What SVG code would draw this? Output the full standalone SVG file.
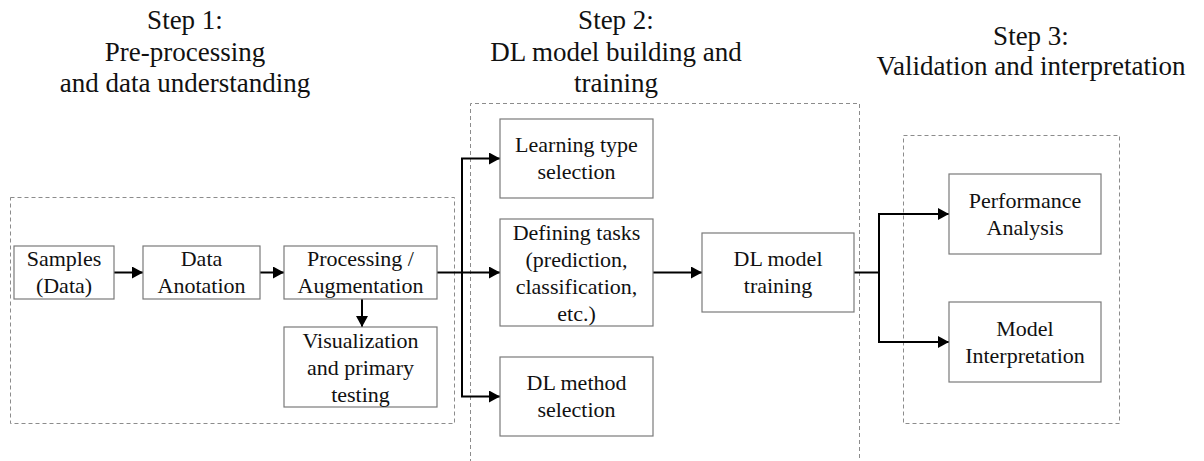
<svg xmlns="http://www.w3.org/2000/svg" width="1204" height="461" viewBox="0 0 1204 461">
  <style>
    .bg { fill: #ffffff; }
    .stage { fill: none; stroke: #8c8c8c; stroke-width: 1; stroke-dasharray: 4 3; }
    .box { fill: #ffffff; stroke: #7a7a7a; stroke-width: 1.2; }
    .lbl { font-size: 22px; fill: #111111; text-anchor: middle; }
    .head { font-size: 27px; fill: #111111; text-anchor: middle; }
    .wire { fill: none; stroke: #000000; stroke-width: 2; }
  </style>
  <defs>
    <marker id="arrow" markerUnits="userSpaceOnUse" markerWidth="11" markerHeight="12" viewBox="0 0 11 12" refX="11" refY="6" orient="auto">
      <path d="M0,0 L11,6 L0,12 z" fill="#000000"/>
    </marker>
  </defs>

  <rect class="bg" x="0" y="0" width="1204" height="461"/>

  <g font-family="'Liberation Serif', Tinos, 'DejaVu Serif', 'Times New Roman', serif">
  <!-- stage headings -->
  <g id="headings">
    <text class="head" x="185" y="29">Step 1:</text>
    <text class="head" x="185" y="61">Pre-processing</text>
    <text class="head" x="185" y="92">and data understanding</text>
    <text class="head" x="616" y="29">Step 2:</text>
    <text class="head" x="616" y="61">DL model building and</text>
    <text class="head" x="616" y="92">training</text>
    <text class="head" x="1031" y="45">Step 3:</text>
    <text class="head" x="1031" y="75">Validation and interpretation</text>
  </g>

  <!-- dashed stage frames -->
  <g id="stages">
    <rect class="stage" x="10.5" y="197.5" width="444" height="226"/>
    <path class="stage" d="M470.5,470 V103.5 H859.5 V470"/>
    <rect class="stage" x="903.5" y="135.5" width="216" height="288"/>
  </g>

  <!-- connectors -->
  <g id="connectors">
    <line class="wire" x1="114" y1="272.5" x2="143" y2="272.5" marker-end="url(#arrow)"/>
    <line class="wire" x1="260" y1="272.5" x2="284" y2="272.5" marker-end="url(#arrow)"/>
    <line class="wire" x1="362" y1="299" x2="362" y2="327" marker-end="url(#arrow)"/>
    <line class="wire" x1="437" y1="272.5" x2="462" y2="272.5"/>
    <path class="wire" d="M462,158.5 V396.5"/>
    <line class="wire" x1="461" y1="158.5" x2="500" y2="158.5" marker-end="url(#arrow)"/>
    <line class="wire" x1="462" y1="272.5" x2="500" y2="272.5" marker-end="url(#arrow)"/>
    <line class="wire" x1="461" y1="396.5" x2="500" y2="396.5" marker-end="url(#arrow)"/>
    <line class="wire" x1="653" y1="272.5" x2="702" y2="272.5" marker-end="url(#arrow)"/>
    <line class="wire" x1="854" y1="272.5" x2="879" y2="272.5"/>
    <path class="wire" d="M879,214 V342"/>
    <line class="wire" x1="878" y1="214" x2="949" y2="214" marker-end="url(#arrow)"/>
    <line class="wire" x1="878" y1="342" x2="949" y2="342" marker-end="url(#arrow)"/>
  </g>

  <!-- step 1 nodes -->
  <g id="samples">
    <rect class="box" x="14" y="246" width="100" height="53"/>
    <text class="lbl" x="64" y="266">Samples</text>
    <text class="lbl" x="64" y="293">(Data)</text>
  </g>
  <g id="annotation">
    <rect class="box" x="143" y="246" width="117" height="53"/>
    <text class="lbl" x="201.5" y="266">Data</text>
    <text class="lbl" x="201.5" y="293">Anotation</text>
  </g>
  <g id="processing">
    <rect class="box" x="284" y="246" width="153" height="53"/>
    <text class="lbl" x="360.5" y="266">Processing /</text>
    <text class="lbl" x="360.5" y="293">Augmentation</text>
  </g>
  <g id="visualization">
    <rect class="box" x="284" y="327" width="153" height="80"/>
    <text class="lbl" x="360.5" y="347.5">Visualization</text>
    <text class="lbl" x="360.5" y="374.5">and primary</text>
    <text class="lbl" x="360.5" y="401.5">testing</text>
  </g>

  <!-- step 2 nodes -->
  <g id="learning-type">
    <rect class="box" x="500" y="119" width="153" height="79"/>
    <text class="lbl" x="576.5" y="152">Learning type</text>
    <text class="lbl" x="576.5" y="179">selection</text>
  </g>
  <g id="defining-tasks">
    <rect class="box" x="500" y="219" width="153" height="107"/>
    <text class="lbl" x="576.5" y="239.5">Defining tasks</text>
    <text class="lbl" x="576.5" y="266.5">(prediction,</text>
    <text class="lbl" x="576.5" y="293.5">classification,</text>
    <text class="lbl" x="576.5" y="320.5">etc.)</text>
  </g>
  <g id="dl-method">
    <rect class="box" x="500" y="357" width="153" height="79"/>
    <text class="lbl" x="576.5" y="390">DL method</text>
    <text class="lbl" x="576.5" y="417">selection</text>
  </g>
  <g id="dl-training">
    <rect class="box" x="702" y="233" width="152" height="79"/>
    <text class="lbl" x="778" y="266">DL model</text>
    <text class="lbl" x="778" y="293">training</text>
  </g>

  <!-- step 3 nodes -->
  <g id="performance">
    <rect class="box" x="949" y="174" width="152" height="80"/>
    <text class="lbl" x="1025" y="207.5">Performance</text>
    <text class="lbl" x="1025" y="234.5">Analysis</text>
  </g>
  <g id="interpretation">
    <rect class="box" x="949" y="302" width="152" height="80"/>
    <text class="lbl" x="1025" y="335.5">Model</text>
    <text class="lbl" x="1025" y="362.5">Interpretation</text>
  </g>
  </g>
</svg>
